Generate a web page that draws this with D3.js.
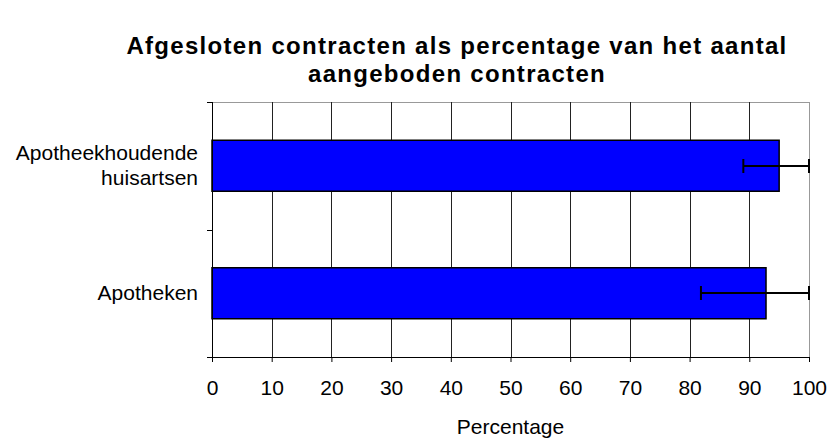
<!DOCTYPE html>
<html>
<head>
<meta charset="utf-8">
<script src="https://cdn.jsdelivr.net/npm/d3@7"></script>
<style>
  body { margin: 0; background: #fff; }
  text { font-family: "Liberation Sans", Arial, sans-serif; }
</style>
</head>
<body>
<script>
const categories = ["Apotheekhoudende huisartsen", "Apotheken"];
const labelLines = [["Apotheekhoudende", "huisartsen"], ["Apotheken"]];
const values = [95.0, 92.8];
const errLow = [89.0, 81.9];
const errHigh = [100, 100];
const xTicks = [0, 10, 20, 30, 40, 50, 60, 70, 80, 90, 100];
const titleLines = ["Afgesloten contracten als percentage van het aantal", "aangeboden contracten"];

const margin = { top: 102, right: 19, bottom: 83, left: 212 },
      width = 828 - margin.left - margin.right,
      height = 440 - margin.top - margin.bottom;

const svg = d3.select("body")
  .append("svg")
  .attr("width", 828)
  .attr("height", 440);

// title
svg.append("text")
  .attr("text-anchor", "middle")
  .style("font-weight", "bold")
  .style("font-size", "24px")
  .style("letter-spacing", "1.3px")
  .selectAll("tspan")
  .data(titleLines)
  .enter()
  .append("tspan")
  .attr("x", 457)
  .attr("y", (d, i) => 54 + i * 28)
  .text(d => d);

const g = svg.append("g")
  .attr("transform", `translate(${margin.left},${margin.top})`);

const x = d3.scaleLinear()
  .domain([0, 100])
  .range([0, width]);

const y = d3.scaleBand()
  .domain(categories)
  .range([0, height])
  .paddingInner(0.6)
  .paddingOuter(0.3);

// plot border
g.append("rect")
  .attr("x", 0.5)
  .attr("y", 0.5)
  .attr("width", width)
  .attr("height", height)
  .attr("fill", "none")
  .attr("stroke", "#999");

// gridlines
g.append("g")
  .selectAll("line")
  .data(xTicks.slice(1, -1))
  .enter()
  .append("line")
  .attr("x1", d => Math.round(x(d)) + 0.5)
  .attr("x2", d => Math.round(x(d)) + 0.5)
  .attr("y1", 0)
  .attr("y2", height)
  .attr("stroke", "#222");

// bars
g.append("g")
  .selectAll("rect")
  .data(categories)
  .enter()
  .append("rect")
  .attr("x", 0)
  .attr("y", d => y(d))
  .attr("width", (d, i) => x(values[i]))
  .attr("height", y.bandwidth())
  .attr("fill", "#0000ff")
  .attr("stroke", "#000")
  .attr("stroke-width", 1.5);

// error bars
const eb = g.append("g")
  .selectAll("g")
  .data(categories)
  .enter()
  .append("g")
  .attr("transform", d => `translate(0,${Math.round(y(d) + y.bandwidth() / 2)})`);

eb.append("line")
  .attr("x1", (d, i) => x(errLow[i]))
  .attr("x2", (d, i) => x(errHigh[i]))
  .attr("stroke", "#000")
  .attr("stroke-width", 2);

eb.append("line")
  .attr("x1", (d, i) => x(errLow[i]))
  .attr("x2", (d, i) => x(errLow[i]))
  .attr("y1", -7)
  .attr("y2", 7)
  .attr("stroke", "#000")
  .attr("stroke-width", 2);

eb.append("line")
  .attr("x1", (d, i) => x(errHigh[i]))
  .attr("x2", (d, i) => x(errHigh[i]))
  .attr("y1", -7)
  .attr("y2", 7)
  .attr("stroke", "#000")
  .attr("stroke-width", 2);

// x axis
const xAxis = g.append("g")
  .attr("transform", `translate(0,${height})`)
  .call(d3.axisBottom(x).tickValues(xTicks).tickSize(5));
xAxis.selectAll("text")
  .attr("y", 38)
  .attr("dy", 0)
  .style("font-size", "21px")
  .attr("fill", "#000");
xAxis.select(".domain").attr("stroke", "#000");

// y axis: ticks at band boundaries
const yAxisG = g.append("g");
yAxisG.append("line")
  .attr("x1", 0.5).attr("x2", 0.5)
  .attr("y1", 0).attr("y2", height)
  .attr("stroke", "#000");
yAxisG.selectAll(".tick")
  .data([0, height / 2, height])
  .enter()
  .append("line")
  .attr("x1", -5).attr("x2", 0)
  .attr("y1", d => Math.round(d) + 0.5)
  .attr("y2", d => Math.round(d) + 0.5)
  .attr("stroke", "#000");

// category labels
g.append("g")
  .selectAll("text")
  .data(categories)
  .enter()
  .append("text")
  .attr("text-anchor", "end")
  .style("font-size", "21px")
  .each(function(d, i) {
    const lines = labelLines[i];
    const cy = y(d) + y.bandwidth() / 2;
    d3.select(this).selectAll("tspan")
      .data(lines)
      .enter()
      .append("tspan")
      .attr("x", -14)
      .attr("y", (l, j) => cy + 7 + (j - (lines.length - 1) / 2) * 25)
      .text(l => l);
  });

// axis title
svg.append("text")
  .attr("x", margin.left + width / 2)
  .attr("y", 434)
  .attr("text-anchor", "middle")
  .style("font-size", "21px")
  .text("Percentage");
</script>
</body>
</html>
